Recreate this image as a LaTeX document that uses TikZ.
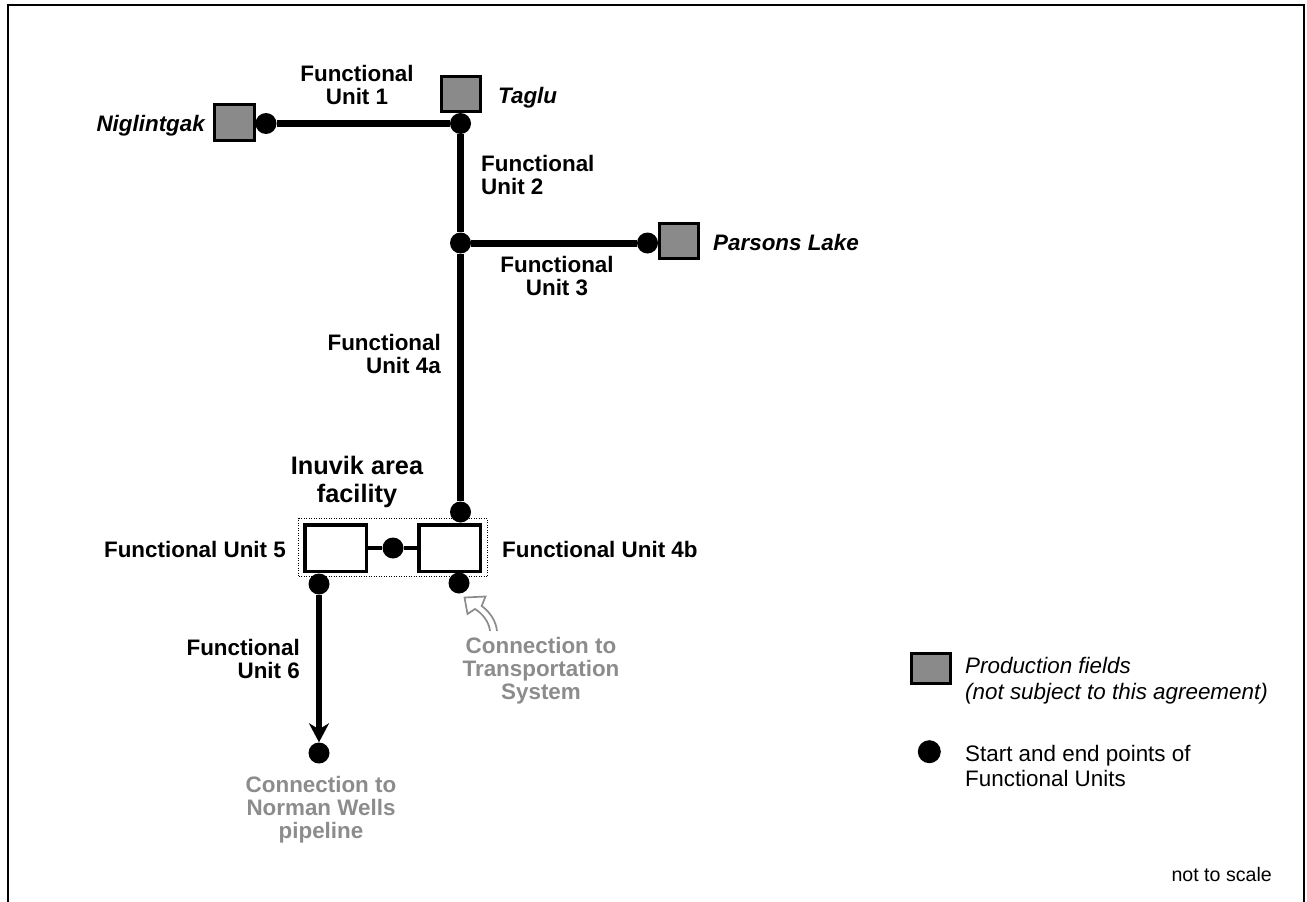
\documentclass[tikz,border=0pt]{standalone}
\usepackage{fontspec}
\setmainfont{Liberation Sans}
\usetikzlibrary{arrows.meta}
\definecolor{fieldgray}{RGB}{138,138,138}
\definecolor{notegray}{RGB}{140,140,140}
\begin{document}
\begin{tikzpicture}[x=1pt,y=-1pt,
  field/.style={draw=black, line width=3pt, fill=fieldgray, inner sep=0pt, minimum width=39pt, minimum height=35pt},
  endpt/.style={circle, fill=black, inner sep=0pt, minimum size=21pt},
  unitbox/.style={draw=black, line width=3.5pt, fill=white, inner sep=0pt, minimum width=61.5pt, minimum height=46.5pt},
  pipe/.style={line width=7pt},
  lbl/.style={inner sep=0pt, font=\fontsize{22.4}{23}\selectfont\bfseries},
  fieldlbl/.style={inner sep=0pt, font=\fontsize{22.4}{23}\selectfont\bfseries\itshape},
  note/.style={inner sep=0pt, text=notegray, font=\fontsize{22.4}{23}\selectfont\bfseries},
  legend/.style={inner sep=0pt, font=\fontsize{22.4}{25.5}\selectfont},
  legendit/.style={inner sep=0pt, font=\fontsize{22.4}{26}\selectfont\itshape}]
\useasboundingbox (0,0) rectangle (1307,902);
\draw[line width=2pt] (8,902) -- (8,5) -- (1304,5) -- (1304,902);

% production fields
\node[field, minimum width=40pt, minimum height=36pt] (nig) at (234,122) {};
\node[field] (taglu) at (461,94) {};
\node[field] (parsons) at (679,241) {};

% Inuvik area facility
\node[draw=black, dash pattern=on 1pt off 1.5pt, line width=1pt, minimum width=189pt, minimum height=58pt, inner sep=0pt] (fac) at (393,547.5) {};
\node[unitbox] (u5) at (335.5,548) {};
\node[unitbox] (u4b) at (449.5,548) {};

% start and end points
\node[endpt] (nigd) at (266,123.5) {};
\node[endpt] (tj) at (460.5,123.5) {};
\node[endpt] (pj) at (460.5,243) {};
\node[endpt] (pd) at (647.5,243) {};
\node[endpt] (b4t) at (460.5,512) {};
\node[endpt] (mid) at (393,548) {};
\node[endpt] (b4b) at (459,583) {};
\node[endpt] (b5b) at (319,584) {};
\node[endpt] (nw) at (319,753) {};

% pipelines
\draw[pipe] (nigd) -- (tj);
\draw[pipe] (tj) -- (pj);
\draw[pipe] (pj) -- (pd);
\draw[pipe] (pj) -- (b4t);
\draw[line width=4pt] (u5) -- (mid) -- (u4b);
\draw[line width=6.5pt, -{Stealth[length=19pt,width=20pt,inset=6pt]}] (b5b) -- (nw);

% hollow curved pointer
\draw[notegray, line width=1.7pt, fill=white, line join=miter]
  (490,631) .. controls (489,622) and (483,614) .. (475,609) -- (467.5,614) -- (464.5,597.5)
  -- (485.5,596.5) -- (481.7,606) .. controls (490,612) and (496,621) .. (497,631);

% labels
\node[lbl, align=center] (fu1) at (357,85.3) {Functional\\Unit 1};
\node[fieldlbl, anchor=base west] (tagl) at (498,103) {Taglu};
\node[fieldlbl, anchor=base east] (nigl) at (205,131) {Niglintgak};
\node[lbl, align=left, anchor=west] (fu2) at (481,175.4) {Functional\\Unit 2};
\node[fieldlbl, anchor=base west] (parl) at (713,250) {Parsons Lake};
\node[lbl, align=center] (fu3) at (557,276) {Functional\\Unit 3};
\node[lbl, align=right, anchor=east] (fu4a) at (441,354.4) {Functional\\Unit 4a};
\node[inner sep=0pt, font=\fontsize{25.3}{28}\selectfont\bfseries, align=center] (inuvik) at (357,482.4) {Inuvik area\\facility};
\node[lbl, anchor=base east] (fu5) at (286,557) {Functional Unit 5};
\node[lbl, anchor=base west] (fu4bl) at (502,557) {Functional Unit 4b};
\node[lbl, align=right, anchor=east] (fu6) at (300,658.9) {Functional\\Unit 6};
\node[note, align=center] (trans) at (541,670.6) {Connection to\\Transportation\\System};
\node[note, align=center] (norman) at (321,810) {Connection to\\Norman Wells\\pipeline};

% legend
\node[field, minimum height=30pt] (legf) at (931,668.3) {};
\node[legendit, align=left, anchor=west] (legft) at (965,680.5) {Production fields\\(not subject to this agreement)};
\node[endpt, minimum size=23pt] (legd) at (929.3,751.7) {};
\node[legend, align=left, anchor=west] (legdt) at (965,766) {Start and end points of\\Functional Units};
\node[inner sep=0pt, font=\fontsize{19.6}{22}\selectfont, anchor=base east] (scale) at (1272,881.7) {not to scale};
\end{tikzpicture}
\end{document}
